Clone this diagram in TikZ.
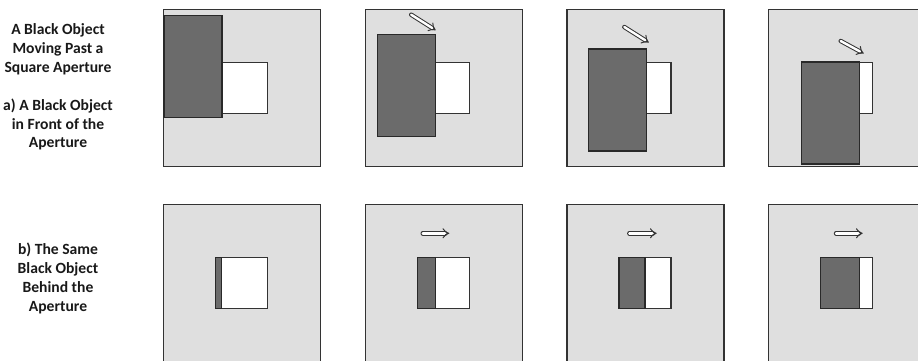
\documentclass[tikz,border=0pt]{standalone}
\usepackage{fontspec}
\setmainfont{Carlito}
\usepackage{xcolor}
\usetikzlibrary{arrows.meta, positioning}
\definecolor{panelgray}{HTML}{DFDFDF}
\definecolor{objgray}{HTML}{6B6B6B}
\definecolor{edgegray}{HTML}{333333}
\tikzset{
    scene/.style={x=1pt, y=-1pt, font=\bfseries\fontsize{15.6}{18.8}\selectfont},
    panel/.style={draw=edgegray, fill=panelgray, line width=1.2pt, anchor=north west,
        minimum size=157, inner sep=0pt, outer sep=0pt},
    aperture/.style={draw=edgegray, fill=white, line width=1.2pt, anchor=north west,
        minimum width=52, minimum height=51, inner sep=0pt, outer sep=0pt},
    % the black object in front of the panel
    frontobj/.style={draw=edgegray!80!black, fill=objgray, line width=1.2pt, anchor=north west,
        minimum width=58, minimum height=102, inner sep=0pt, outer sep=0pt},
    % the part of the object seen through the aperture
    backobj/.style={draw=edgegray!80!black, fill=objgray, line width=1.2pt, anchor=north west,
        minimum height=51, inner sep=0pt, outer sep=0pt},
    motion/.style={draw=edgegray, double=white, double distance=2.4pt, line width=1pt,
        line cap=round, -{Implies[scale=2.4]}},
    caption/.style={align=center, text=black!90},
}

\begin{document}
\begin{tikzpicture}[scene]
    \clip (0,0) rectangle (918,360);

    % captions
    \node[caption] (title)  at (58,49)    {A Black Object\\Moving Past a\\Square Aperture};
    \node[caption] (front)  at (58,124.5) {a) A Black Object\\in Front of the\\Aperture};
    \node[caption] (behind) at (58,278.5) {b) The Same\\Black Object\\Behind the\\Aperture};

    % a) object in front of the aperture
    \node[panel] (ta) at (163.7,9.3) {};
    \node[panel] (tb) at (365.3,9.3) {};
    \node[panel] (tc) at (567.0,9.3) {};
    \node[panel] (td) at (768.7,9.3) {};

    \node[aperture] (ata) at ([shift={(52,53)}]ta.north west) {};
    \node[aperture] (atb) at ([shift={(52,53)}]tb.north west) {};
    \node[aperture] (atc) at ([shift={(52,53)}]tc.north west) {};
    \node[aperture] (atd) at ([shift={(52,53)}]td.north west) {};

    \node[frontobj] (oa) at ([shift={(0.3,6.4)}]ta.north west)   {};
    \node[frontobj] (ob) at ([shift={(11.9,25.4)}]tb.north west)  {};
    \node[frontobj] (oc) at ([shift={(21.3,39.7)}]tc.north west)  {};
    \node[frontobj] (od) at ([shift={(33.0,52.7)}]td.north west)  {};

    \coordinate[above left=20pt and 24pt of ob.north east] (mb);
    \coordinate[above left=22pt and 22pt of oc.north east] (mc);
    \coordinate[above left=21pt and 19pt of od.north east] (md);
    \draw[motion] (mb) -- ([shift={(0.5,-4.5)}]ob.north east);
    \draw[motion] (mc) -- ([shift={(2.5,-6.5)}]oc.north east);
    \draw[motion] (md) -- ([shift={(4,-8.5)}]od.north east);

    % b) object behind the aperture
    \node[panel] (ba) at (163.7,204.7) {};
    \node[panel] (bb) at (365.3,204.7) {};
    \node[panel] (bc) at (567.0,204.7) {};
    \node[panel] (bd) at (768.7,204.7) {};

    \node[aperture] (aba) at ([shift={(52,53)}]ba.north west) {};
    \node[aperture] (abb) at ([shift={(52,53)}]bb.north west) {};
    \node[aperture] (abc) at ([shift={(52,53)}]bc.north west) {};
    \node[aperture] (abd) at ([shift={(52,53)}]bd.north west) {};

    \node[backobj, minimum width=6]  (sa) at (aba.north west) {};
    \node[backobj, minimum width=18] (sb) at (abb.north west) {};
    \node[backobj, minimum width=26] (sc) at (abc.north west) {};
    \node[backobj, minimum width=39] (sd) at (abd.north west) {};

    \coordinate[above=24.4pt of abb.north] (hb);
    \coordinate[above=24.4pt of abc.north] (hc);
    \coordinate[above=24.4pt of abd.north] (hd);
    \draw[motion] ([xshift=-20.6pt]hb) -- ([xshift=6pt]hb);
    \draw[motion] ([xshift=-15.7pt]hc) -- ([xshift=11.7pt]hc);
    \draw[motion] ([xshift=-10.7pt]hd) -- ([xshift=16pt]hd);
\end{tikzpicture}
\end{document}
